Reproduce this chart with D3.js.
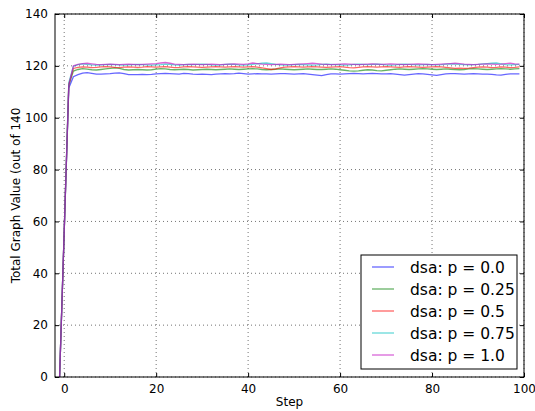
<!DOCTYPE html>
<html>
<head>
<meta charset="utf-8">
<script src="https://cdn.jsdelivr.net/npm/d3@7"></script>
<style>
  body { margin: 0; background: #fff; }
  text { font-family: "DejaVu Sans", sans-serif; }
</style>
</head>
<body>
<div id="chart"></div>
<script>
// 每个系列的数值，从 step = -1 开始
const labels = ['dsa: p = 0.0', 'dsa: p = 0.25', 'dsa: p = 0.5', 'dsa: p = 0.75', 'dsa: p = 1.0'];
const colors = ['#0000ff', '#008000', '#ff0000', '#00bfbf', '#bf00bf'];
const firstStep = -1;

const p00 = [0, 56, 111.5, 115.8, 116.6, 117.2, 117.4, 117.1, 116.8, 116.8, 116.9, 117.0, 117.2, 117.3, 117.0, 116.6, 116.6, 116.6, 116.7, 116.6, 116.7,
  116.9, 117.0, 117.1, 117.0, 116.9, 116.8, 117.1, 117.0, 116.8, 116.7, 116.8, 116.7, 116.6, 116.8, 116.9, 117.0, 116.9, 117.0, 117.2, 117.0,
  116.8, 116.9, 117.0, 116.9, 116.9, 116.8, 116.9, 117.0, 117.0, 116.9, 116.8, 116.9, 117.0, 116.8, 116.6, 116.4, 116.2, 116.6, 116.9, 116.9,
  116.8, 116.9, 117.0, 117.1, 117.0, 116.9, 117.0, 117.1, 117.0, 116.9, 116.9, 117.0, 116.8, 116.6, 116.4, 116.6, 116.8, 117.0, 116.9, 116.7,
  116.5, 116.3, 116.6, 116.9, 117.0, 117.0, 116.9, 116.8, 116.9, 117.0, 116.9, 116.8, 116.8, 116.7, 116.5, 116.4, 116.7, 116.9, 116.9, 116.9];
const p025 = [0, 56, 112.5, 118.0, 118.6, 118.9, 118.7, 118.5, 118.4, 118.6, 118.8, 119.0, 119.2, 119.0, 118.6, 118.4, 118.5, 118.6, 118.5, 118.4, 118.5,
  118.7, 118.9, 118.8, 118.6, 118.5, 118.6, 118.7, 118.6, 118.4, 118.5, 118.6, 118.7, 118.6, 118.5, 118.6, 118.7, 118.8, 118.7, 118.6, 118.7,
  118.8, 118.9, 118.8, 118.6, 118.5, 118.6, 118.7, 118.8, 118.7, 118.6, 118.5, 118.6, 118.7, 118.8, 118.7, 118.6, 118.6, 118.7, 118.8, 118.7,
  118.5, 118.3, 118.1, 118.0, 118.1, 118.3, 118.5, 118.4, 118.2, 118.1, 118.3, 118.5, 118.7, 118.8, 118.7, 118.6, 118.7, 118.8, 118.9, 118.8,
  118.7, 118.6, 118.7, 118.8, 118.7, 118.6, 118.5, 118.6, 118.8, 118.9, 118.8, 118.7, 118.6, 118.7, 118.8, 118.9, 118.8, 118.7, 118.8, 118.9];
const p05 = [0, 56, 113.0, 119.0, 119.4, 119.6, 119.5, 119.3, 119.4, 119.6, 119.7, 119.6, 119.4, 119.3, 119.5, 119.6, 119.5, 119.4, 119.5, 119.7, 119.6,
  119.5, 119.6, 119.7, 119.5, 119.3, 119.4, 119.6, 119.7, 119.6, 119.5, 119.4, 119.5, 119.6, 119.7, 119.6, 119.5, 119.6, 119.7, 119.6, 119.5,
  119.6, 119.7, 119.5, 119.2, 118.9, 118.6, 118.8, 119.2, 119.5, 119.6, 119.7, 119.6, 119.5, 119.6, 119.7, 119.6, 119.5, 119.4, 119.5, 119.6,
  119.7, 119.5, 119.3, 119.2, 119.4, 119.6, 119.7, 119.6, 119.5, 119.6, 119.7, 119.6, 119.5, 119.4, 119.6, 119.7, 119.6, 119.5, 119.4, 119.5,
  119.6, 119.7, 119.6, 119.4, 119.2, 119.0, 119.1, 119.0, 119.1, 119.3, 119.5, 119.6, 119.5, 119.3, 119.4, 119.6, 119.5, 119.3, 119.4, 119.6];
const p075 = [0, 56, 113.5, 119.8, 120.5, 120.8, 120.6, 120.4, 120.3, 120.4, 120.5, 120.6, 120.5, 120.4, 120.3, 120.4, 120.5, 120.6, 120.5, 120.4, 120.3,
  120.4, 120.5, 120.7, 120.6, 120.4, 120.3, 120.5, 120.6, 120.5, 120.6, 120.7, 120.6, 120.4, 120.3, 120.4, 120.6, 120.7, 120.6, 120.4, 120.3,
  120.4, 120.6, 120.8, 121.0, 121.1, 120.9, 120.6, 120.4, 120.3, 120.4, 120.5, 120.6, 120.5, 120.4, 120.3, 120.4, 120.6, 120.7, 120.6, 120.5,
  120.4, 120.3, 120.4, 120.6, 120.7, 120.6, 120.5, 120.6, 120.7, 120.6, 120.4, 120.3, 120.4, 120.6, 120.7, 120.6, 120.5, 120.4, 120.5, 120.6,
  120.5, 120.4, 120.5, 120.7, 120.8, 120.7, 120.6, 120.5, 120.4, 120.5, 120.6, 120.8, 120.9, 121.0, 121.1, 120.8, 120.5, 120.4, 120.5, 120.6];
const p10 = [0, 56, 112.5, 120.0, 120.6, 120.9, 121.0, 120.8, 120.6, 120.5, 120.6, 120.7, 120.6, 120.5, 120.6, 120.7, 120.6, 120.5, 120.6, 120.7, 120.8,
  120.9, 121.1, 121.3, 121.0, 120.7, 120.6, 120.5, 120.6, 120.7, 120.6, 120.5, 120.6, 120.7, 120.6, 120.5, 120.6, 120.7, 120.8, 120.7, 120.6,
  120.8, 121.1, 120.9, 120.7, 120.6, 120.5, 120.6, 120.7, 120.6, 120.5, 120.6, 120.7, 120.8, 120.9, 121.0, 120.9, 120.7, 120.6, 120.5, 120.6,
  120.7, 120.8, 120.7, 120.6, 120.5, 120.6, 120.7, 120.8, 120.7, 120.6, 120.7, 120.8, 120.7, 120.6, 120.5, 120.6, 120.7, 120.8, 120.7, 120.6,
  120.5, 120.6, 120.7, 120.8, 120.9, 121.0, 120.9, 120.7, 120.6, 120.5, 120.6, 120.7, 120.8, 120.7, 120.6, 120.7, 120.9, 121.0, 120.8, 120.7];

const series = [p00, p025, p05, p075, p10];
const xTicks = [0, 20, 40, 60, 80, 100];
const yTicks = [0, 20, 40, 60, 80, 100, 120, 140];

const width = 535, height = 411;
const margin = { top: 14, right: 11, bottom: 34, left: 55 };

const svg = d3.select('#chart').append('svg')
  .attr('width', width)
  .attr('height', height);

const x = d3.scaleLinear().domain([-2, 100]).range([margin.left, width - margin.right]);
const y = d3.scaleLinear().domain([0, 140]).range([height - margin.bottom, margin.top]);

// 网格线
const grid = svg.append('g');
xTicks.forEach(t => {
  grid.append('line')
    .attr('x1', x(t)).attr('x2', x(t))
    .attr('y1', y(0)).attr('y2', y(140))
    .attr('stroke', '#000').attr('stroke-opacity', 0.55)
    .attr('stroke-dasharray', '1,3');
});
yTicks.forEach(t => {
  grid.append('line')
    .attr('x1', x(-2)).attr('x2', x(100))
    .attr('y1', y(t)).attr('y2', y(t))
    .attr('stroke', '#000').attr('stroke-opacity', 0.55)
    .attr('stroke-dasharray', '1,3');
});

svg.append('clipPath').attr('id', 'clip')
  .append('rect')
  .attr('x', margin.left).attr('y', margin.top)
  .attr('width', width - margin.left - margin.right)
  .attr('height', height - margin.top - margin.bottom);

const line = d3.line()
  .x((d, i) => x(firstStep + i))
  .y(d => y(d));

const lines = svg.append('g').attr('clip-path', 'url(#clip)');
series.forEach((s, k) => {
  lines.append('path')
    .datum(s)
    .attr('fill', 'none')
    .attr('stroke', colors[k])
    .attr('stroke-opacity', 0.6)
    .attr('stroke-width', 1.3)
    .attr('d', line);
});

// 坐标轴（刻度朝内，四边都有）
const tickLen = 4;
svg.append('g')
  .attr('transform', `translate(0,${y(0)})`)
  .call(d3.axisBottom(x).tickValues(xTicks).tickSize(-tickLen).tickPadding(7))
  .call(g => g.select('.domain').remove());
svg.append('g')
  .attr('transform', `translate(0,${y(140)})`)
  .call(d3.axisTop(x).tickValues(xTicks).tickSize(-tickLen).tickFormat(''))
  .call(g => g.select('.domain').remove());
svg.append('g')
  .attr('transform', `translate(${x(-2)},0)`)
  .call(d3.axisLeft(y).tickValues(yTicks).tickSize(-tickLen).tickPadding(7))
  .call(g => g.select('.domain').remove());
svg.append('g')
  .attr('transform', `translate(${x(100)},0)`)
  .call(d3.axisRight(y).tickValues(yTicks).tickSize(-tickLen).tickFormat(''))
  .call(g => g.select('.domain').remove());

svg.selectAll('.tick text')
  .attr('font-size', 12)
  .attr('font-family', '"DejaVu Sans", sans-serif')
  .attr('fill', '#000');
svg.selectAll('.tick line').attr('stroke', '#000');

svg.append('rect')
  .attr('x', x(-2)).attr('y', y(140))
  .attr('width', x(100) - x(-2))
  .attr('height', y(0) - y(140))
  .attr('fill', 'none')
  .attr('stroke', '#000')
  .attr('stroke-width', 1);

// 轴标题
svg.append('text')
  .attr('x', (x(-2) + x(100)) / 2)
  .attr('y', 406)
  .attr('text-anchor', 'middle')
  .attr('font-size', 12)
  .text('Step');
svg.append('text')
  .attr('transform', `translate(20,${(y(0) + y(140)) / 2}) rotate(-90)`)
  .attr('text-anchor', 'middle')
  .attr('font-size', 12)
  .text('Total Graph Value (out of 140');

// 图例
const lgX = 361, lgY = 255, lgW = 156, lgH = 114;
const legend = svg.append('g');
legend.append('rect')
  .attr('x', lgX).attr('y', lgY)
  .attr('width', lgW).attr('height', lgH)
  .attr('fill', '#fff')
  .attr('stroke', '#000')
  .attr('stroke-width', 1);
labels.forEach((lab, k) => {
  const ry = lgY + 12 + k * 22;
  legend.append('line')
    .attr('x1', lgX + 11).attr('x2', lgX + 33)
    .attr('y1', ry).attr('y2', ry)
    .attr('stroke', colors[k])
    .attr('stroke-opacity', 0.6)
    .attr('stroke-width', 1.3);
  legend.append('text')
    .attr('x', lgX + 49)
    .attr('y', ry + 5.5)
    .attr('font-size', 15.5)
    .text(lab);
});
</script>
</body>
</html>
